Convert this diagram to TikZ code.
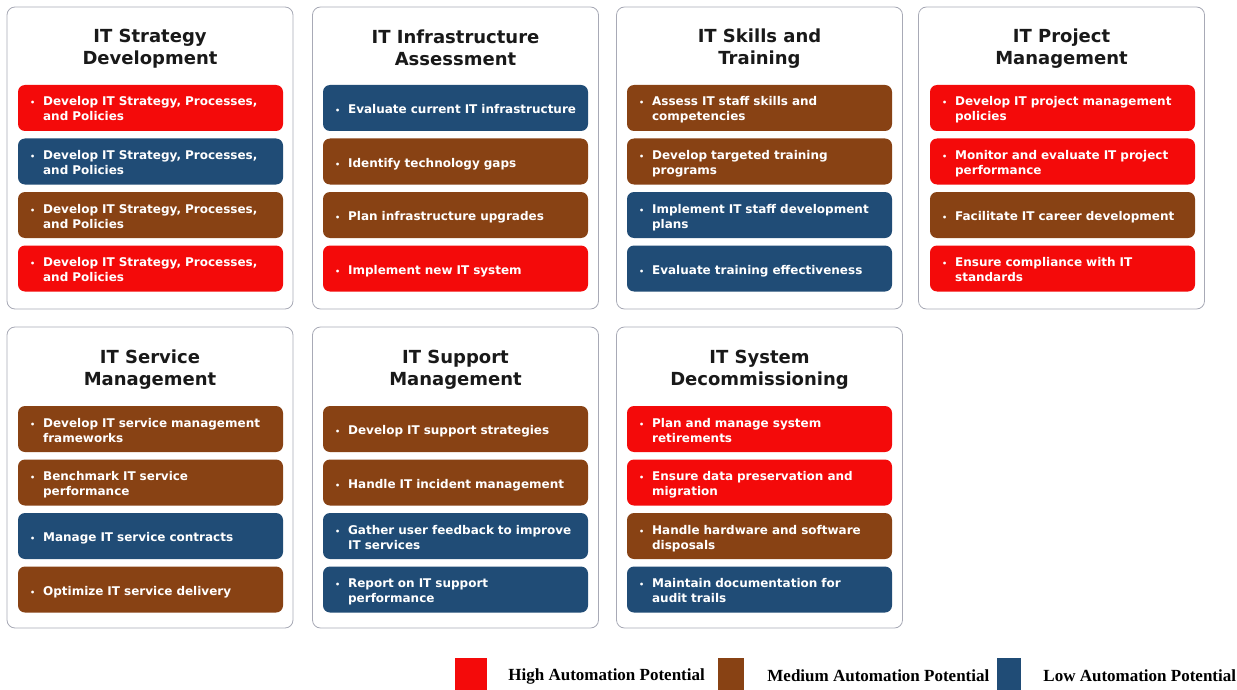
\documentclass[tikz,border=0pt]{standalone}
\usepackage{fontspec}
\setmainfont{DejaVu Sans}
\newfontfamily\keyfont{Liberation Serif}
\usetikzlibrary{positioning}
\definecolor{highred}{RGB}{244,10,10}
\definecolor{medbrown}{RGB}{136,66,20}
\definecolor{lowblue}{RGB}{32,76,118}
\definecolor{framegray}{RGB}{168,170,182}
\definecolor{titleblack}{RGB}{25,25,25}
\newcommand{\bitem}[1]{\raisebox{-2.5pt}[\height][\depth]{\begin{tabular}{@{}l@{\hspace{8pt}}l@{}}{\fontsize{8}{8}\selectfont\textbullet} & \begin{tabular}[t]{@{}l@{}}#1\end{tabular}\end{tabular}}}
\begin{document}
\begin{tikzpicture}
		[x=1pt,y=-1pt,
		panel/.style={draw=framegray,line width=0.8pt,rounded corners=8pt,fill=white,minimum width=286pt,inner sep=0pt},
		title/.style={font=\fontsize{18}{22}\selectfont\bfseries,text=titleblack,align=center},
		item/.style={fill=#1,rounded corners=7pt,text=white,font=\fontsize{12}{15}\selectfont\bfseries,text width=241pt,inner xsep=12pt,inner ysep=0pt,minimum height=46pt,align=left},
		key/.style={fill=#1,minimum height=32pt,inner sep=0pt},
		keytext/.style={font=\keyfont\fontsize{17}{20}\selectfont\bfseries,inner sep=0pt,yshift=-2pt}]
		\useasboundingbox (0,0) rectangle (1237,690);

		% draw the panels
		\node [panel,minimum height=302pt] (p1) at (150,158) {};
		\node [panel,minimum height=302pt] (p2) at (455.5,158) {};
		\node [panel,minimum height=302pt] (p3) at (759.5,158) {};
		\node [panel,minimum height=302pt] (p4) at (1061.5,158) {};
		\node [panel,minimum height=301pt] (p5) at (150,477.5) {};
		\node [panel,minimum height=301pt] (p6) at (455.5,477.5) {};
		\node [panel,minimum height=301pt] (p7) at (759.5,477.5) {};

		% draw the titles
		\node [title] (t1) at (150,49) {IT Strategy\\Development};
		\node [title] (t2) at (455.5,48) {IT Infrastructure\\Assessment};
		\node [title] (t3) at (759.5,49) {IT Skills and\\Training};
		\node [title] (t4) at (1061.5,49) {IT Project\\Management};
		\node [title] (t5) at (150,370) {IT Service\\Management};
		\node [title] (t6) at (455.5,370) {IT Support\\Management};
		\node [title] (t7) at (759.5,370) {IT System\\Decommissioning};

		% strategy development
		\node [item=highred] (s1) at (150.5,108) {\bitem{Develop IT Strategy, Processes,\\and Policies}};
		\node [item=lowblue] (s2) at (150.5,161.5) {\bitem{Develop IT Strategy, Processes,\\and Policies}};
		\node [item=medbrown] (s3) at (150.5,215) {\bitem{Develop IT Strategy, Processes,\\and Policies}};
		\node [item=highred] (s4) at (150.5,268.5) {\bitem{Develop IT Strategy, Processes,\\and Policies}};

		% infrastructure assessment
		\node [item=lowblue] (i1) at (455.5,108) {\bitem{Evaluate current IT infrastructure}};
		\node [item=medbrown] (i2) at (455.5,161.5) {\bitem{Identify technology gaps}};
		\node [item=medbrown] (i3) at (455.5,215) {\bitem{Plan infrastructure upgrades}};
		\node [item=highred] (i4) at (455.5,268.5) {\bitem{Implement new IT system}};

		% skills and training
		\node [item=medbrown] (k1) at (759.5,108) {\bitem{Assess IT staff skills and\\competencies}};
		\node [item=medbrown] (k2) at (759.5,161.5) {\bitem{Develop targeted training\\programs}};
		\node [item=lowblue] (k3) at (759.5,215) {\bitem{Implement IT staff development\\plans}};
		\node [item=lowblue] (k4) at (759.5,268.5) {\bitem{Evaluate training effectiveness}};

		% project management
		\node [item=highred] (m1) at (1062.5,108) {\bitem{Develop IT project management\\policies}};
		\node [item=highred] (m2) at (1062.5,161.5) {\bitem{Monitor and evaluate IT project\\performance}};
		\node [item=medbrown] (m3) at (1062.5,215) {\bitem{Facilitate IT career development}};
		\node [item=highred] (m4) at (1062.5,268.5) {\bitem{Ensure compliance with IT\\standards}};

		% service management
		\node [item=medbrown] (v1) at (150.5,429) {\bitem{Develop IT service management\\frameworks}};
		\node [item=medbrown] (v2) at (150.5,482.5) {\bitem{Benchmark IT service\\performance}};
		\node [item=lowblue] (v3) at (150.5,536) {\bitem{Manage IT service contracts}};
		\node [item=medbrown] (v4) at (150.5,589.5) {\bitem{Optimize IT service delivery}};

		% support management
		\node [item=medbrown] (u1) at (455.5,429) {\bitem{Develop IT support strategies}};
		\node [item=medbrown] (u2) at (455.5,482.5) {\bitem{Handle IT incident management}};
		\node [item=lowblue] (u3) at (455.5,536) {\bitem{Gather user feedback to improve\\IT services}};
		\node [item=lowblue] (u4) at (455.5,589.5) {\bitem{Report on IT support\\performance}};

		% system decommissioning
		\node [item=highred] (d1) at (759.5,429) {\bitem{Plan and manage system\\retirements}};
		\node [item=highred] (d2) at (759.5,482.5) {\bitem{Ensure data preservation and\\migration}};
		\node [item=medbrown] (d3) at (759.5,536) {\bitem{Handle hardware and software\\disposals}};
		\node [item=lowblue] (d4) at (759.5,589.5) {\bitem{Maintain documentation for\\audit trails}};

		% draw the legend
		\node [key=highred,minimum width=32pt] (khigh) at (471,674) {};
		\node [keytext,right=21pt of khigh] (lhigh) {High Automation Potential};
		\node [key=medbrown,minimum width=26pt] (kmed) at (731,674) {};
		\node [keytext,right=23pt of kmed] (lmed) {Medium Automation Potential};
		\node [key=lowblue,minimum width=24pt] (klow) at (1009,674) {};
		\node [keytext,right=22pt of klow] (llow) {Low Automation Potential};
	\end{tikzpicture}
\end{document}
